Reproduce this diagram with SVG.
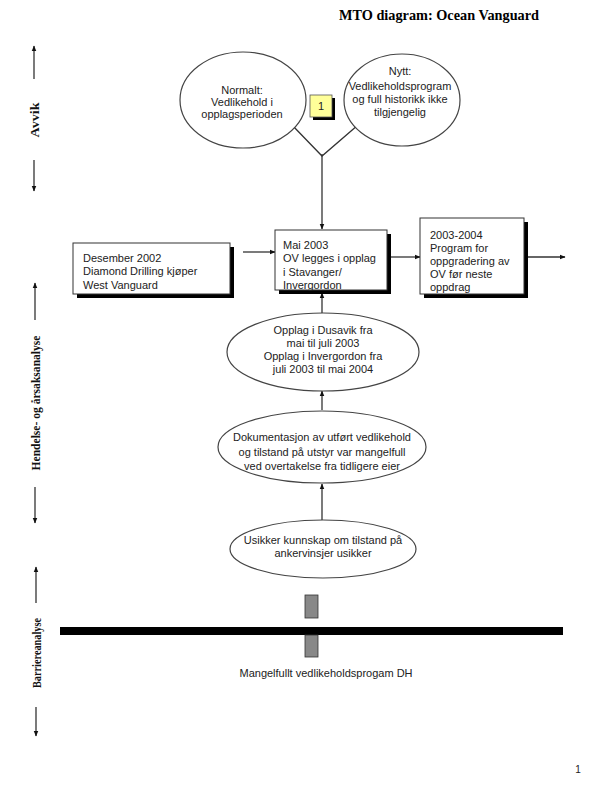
<svg xmlns="http://www.w3.org/2000/svg" width="600" height="800" viewBox="0 0 600 800">
<style>
.t{font-family:"Liberation Sans",Arial,sans-serif;font-size:11px;fill:#222}
.c{text-anchor:middle}
.side{font-family:"Liberation Serif","Times New Roman",serif;font-size:12px;font-weight:bold;text-anchor:middle;fill:#111}
.ell{fill:#fff;stroke:#444;stroke-width:1.2}
.box{fill:#fff;stroke:#333;stroke-width:1}
.sh{fill:#000}
.ln{stroke:#333;stroke-width:1.3;fill:none}
</style>
<defs>
<marker id="ah" viewBox="0 0 10 10" refX="9" refY="5" markerWidth="6" markerHeight="6" orient="auto-start-reverse" markerUnits="userSpaceOnUse">
<path d="M0,1 L10,5 L0,9 z" fill="#111"/>
</marker>
</defs>
<rect width="600" height="800" fill="#fff"/>
<text x="439" y="20" font-family="Liberation Serif,'Times New Roman',serif" font-size="15" font-weight="bold" text-anchor="middle" textLength="200" lengthAdjust="spacingAndGlyphs" fill="#000">MTO diagram: Ocean Vanguard</text>

<g id="side-labels">
<line class="ln" x1="34" y1="79" x2="34" y2="46" marker-end="url(#ah)"/>
<text class="side" transform="translate(39,120) rotate(-90)" textLength="35" lengthAdjust="spacingAndGlyphs">Avvik</text>
<line class="ln" x1="34" y1="160" x2="34" y2="191" marker-end="url(#ah)"/>
<line class="ln" x1="35" y1="320" x2="35" y2="283" marker-end="url(#ah)"/>
<text class="side" transform="translate(40,403) rotate(-90)" textLength="135" lengthAdjust="spacingAndGlyphs">Hendelse- og årsaksanalyse</text>
<line class="ln" x1="35" y1="487" x2="35" y2="523" marker-end="url(#ah)"/>
<line class="ln" x1="36" y1="603" x2="36" y2="567" marker-end="url(#ah)"/>
<text class="side" transform="translate(41,653) rotate(-90)" textLength="70" lengthAdjust="spacingAndGlyphs">Barriereanalyse</text>
<line class="ln" x1="36" y1="707" x2="36" y2="736" marker-end="url(#ah)"/>
</g>

<g id="connectors">
<polyline class="ln" points="292,125 322,156 358,125"/>
<line class="ln" x1="322" y1="154" x2="322" y2="229" marker-end="url(#ah)"/>
<line class="ln" x1="243" y1="252" x2="275" y2="252" marker-end="url(#ah)"/>
<line class="ln" x1="391" y1="257" x2="420" y2="257" marker-end="url(#ah)"/>
<line class="ln" x1="528" y1="257" x2="565" y2="257" marker-end="url(#ah)"/>
<line class="ln" x1="322" y1="313" x2="322" y2="293" marker-end="url(#ah)"/>
<line class="ln" x1="322" y1="410" x2="322" y2="391" marker-end="url(#ah)"/>
<line class="ln" x1="322" y1="520" x2="322" y2="484" marker-end="url(#ah)"/>
</g>

<g id="normalt">
<ellipse class="ell" cx="243" cy="100" rx="63" ry="48"/>
<text class="t c" x="242" y="94">Normalt:</text>
<text class="t c" x="242" y="106">Vedlikehold i</text>
<text class="t c" x="242" y="118">opplagsperioden</text>
</g>

<g id="nytt">
<ellipse class="ell" cx="402" cy="100" rx="58" ry="46"/>
<text class="t c" x="400" y="75">Nytt:</text>
<text class="t c" x="400" y="90">Vedlikeholdsprogram</text>
<text class="t c" x="400" y="103">og full historikk ikke</text>
<text class="t c" x="400" y="116">tilgjengelig</text>
</g>

<g id="note1">
<rect x="313" y="98" width="22" height="22" fill="#000"/>
<rect x="310" y="95" width="22" height="22" fill="#ffff99" stroke="#555" stroke-width="0.8"/>
<text class="t c" x="321" y="110" font-size="10">1</text>
</g>

<g id="desember">
<rect class="sh" x="77" y="247" width="157" height="51"/>
<rect class="box" x="73" y="243" width="157" height="51"/>
<text class="t" x="83" y="262">Desember 2002</text>
<text class="t" x="83" y="275">Diamond Drilling kjøper</text>
<text class="t" x="83" y="289">West Vanguard</text>
</g>

<g id="mai">
<rect class="sh" x="279" y="234" width="112" height="60"/>
<rect class="box" x="275" y="230" width="112" height="60"/>
<text class="t" x="283" y="249">Mai 2003</text>
<text class="t" x="283" y="262">OV legges i opplag</text>
<text class="t" x="283" y="276">i Stavanger/</text>
<text class="t" x="283" y="289">Invergordon</text>
</g>

<g id="program">
<rect class="sh" x="424" y="222" width="104" height="76"/>
<rect class="box" x="420" y="218" width="104" height="76"/>
<text class="t" x="430" y="239">2003-2004</text>
<text class="t" x="430" y="252">Program for</text>
<text class="t" x="430" y="265">oppgradering av</text>
<text class="t" x="430" y="278">OV før neste</text>
<text class="t" x="430" y="291">oppdrag</text>
</g>

<g id="opplag">
<ellipse class="ell" cx="323" cy="352" rx="96" ry="39"/>
<text class="t c" x="323" y="334">Opplag i Dusavik fra</text>
<text class="t c" x="323" y="347">mai til juli 2003</text>
<text class="t c" x="323" y="360">Opplag i Invergordon fra</text>
<text class="t c" x="323" y="373">juli 2003 til mai 2004</text>
</g>

<g id="dokumentasjon">
<ellipse class="ell" cx="322" cy="447" rx="104" ry="36"/>
<text class="t c" x="322" y="441">Dokumentasjon av utført vedlikehold</text>
<text class="t c" x="322" y="456">og tilstand på utstyr var mangelfull</text>
<text class="t c" x="322" y="470">ved overtakelse fra tidligere eier</text>
</g>

<g id="usikker">
<ellipse class="ell" cx="323" cy="549" rx="93" ry="29"/>
<text class="t c" x="323" y="544">Usikker kunnskap om tilstand på</text>
<text class="t c" x="323" y="557">ankervinsjer usikker</text>
</g>

<g id="barrier">
<rect x="305" y="595" width="13" height="23" fill="#888" stroke="#333" stroke-width="0.8"/>
<rect x="60" y="627" width="503" height="8" fill="#000"/>
<rect x="305" y="635" width="13" height="22" fill="#888" stroke="#333" stroke-width="0.8"/>
<text class="t c" x="326" y="677">Mangelfullt vedlikeholdsprogam DH</text>
</g>

<text x="578" y="773" font-family="Liberation Sans,Arial,sans-serif" font-size="10" fill="#222" text-anchor="middle">1</text>
</svg>
